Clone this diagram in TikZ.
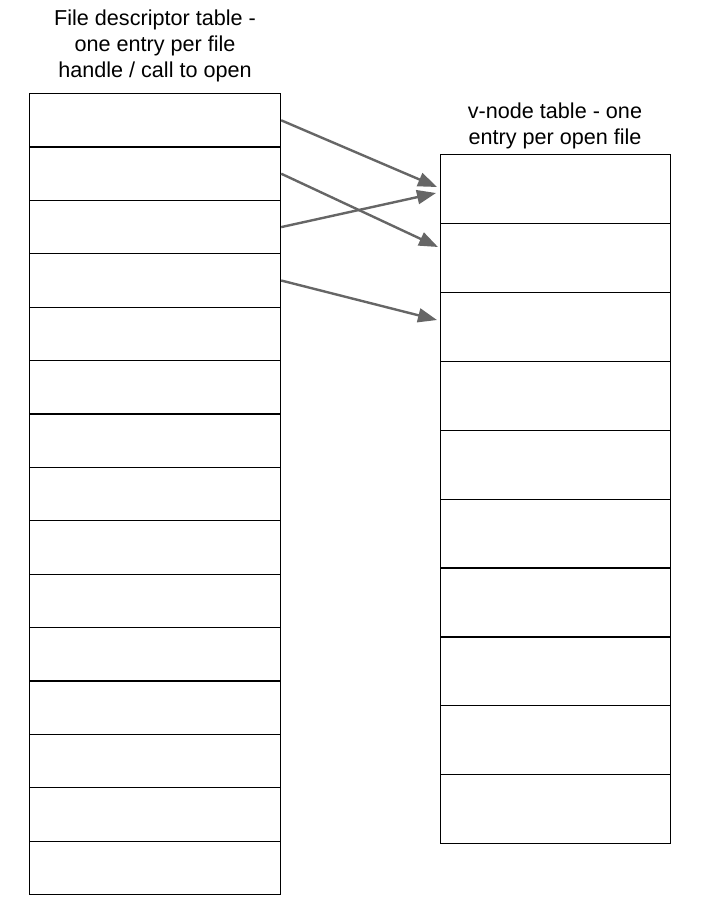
\documentclass[tikz,border=0pt]{standalone}
\usepackage{fontspec}
\setmainfont{Liberation Sans}
\usepackage{tikz}
\usetikzlibrary{arrows.meta}
\tikzset{
  cell/.style={draw=black,line width=1.2pt,inner sep=0pt,anchor=north west},
  fdcell/.style={cell,minimum width=251pt,minimum height=53.4pt},
  vncell/.style={cell,minimum width=230pt,minimum height=68.9pt},
  title/.style={align=center,font=\fontsize{21.6}{26}\selectfont},
  link/.style={draw=black!60,line width=2.4pt,-{Triangle[length=19pt,width=14pt]}}
}

\begin{document}
\begin{tikzpicture}[x=1pt,y=-1pt]
\useasboundingbox (0,0) rectangle (705,898);
\node[title] (fdtitle) at (155,46) {File descriptor table -\\one entry per file\\handle / call to open};
\node[title] (vntitle) at (555,126) {v-node table - one\\entry per open file};
\foreach \i in {1,...,15} {\node[fdcell] (fd\i) at (29,{93+(\i-1)*53.4}) {};}
\foreach \i in {1,...,10} {\node[vncell] (vn\i) at (440,{154+(\i-1)*68.9}) {};}
% free ends just short of the v-node table
\coordinate (in1) at (437,187);
\coordinate (in2) at (438,247);
\coordinate (in3) at (436,193);
\coordinate (in4) at (437,320);
\draw[link] (fd1.east) -- (in1);
\draw[link] (fd2.east) -- (in2);
\draw[link] (fd3.east) -- (in3);
\draw[link] (fd4.east) -- (in4);
\end{tikzpicture}
\end{document}
